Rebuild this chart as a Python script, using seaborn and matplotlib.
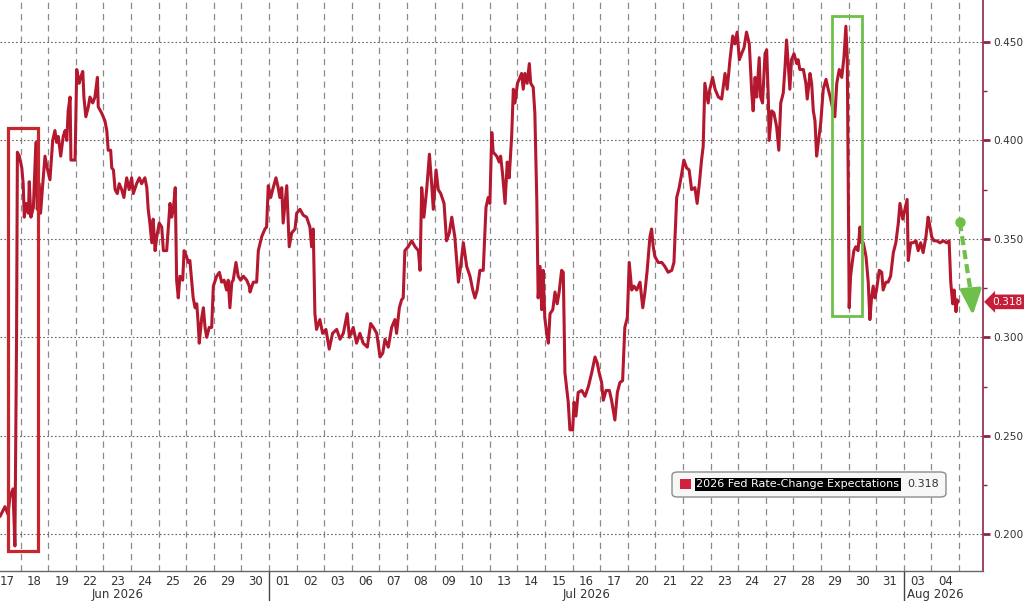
import numpy as np
import pandas as pd
import matplotlib
matplotlib.use("Agg")
import matplotlib.pyplot as plt
import matplotlib.transforms as mtransforms
from matplotlib.patches import Rectangle, FancyBboxPatch
from matplotlib.lines import Line2D
import seaborn as sns

sns.set_theme(style="white")
plt.rcParams["font.family"] = ["DejaVu Sans"]

# ---------------- data ----------------
day_labels = ["17", "18", "19", "22", "23", "24", "25", "26", "29", "30",
              "01", "02", "03", "06", "07", "08", "09", "10", "13", "14",
              "15", "16", "17", "20", "21", "22", "23", "24", "27", "28",
              "29", "30", "31", "03", "04"]
month_labels = ["Jun 2026", "Jul 2026", "Aug 2026"]
month_label_pos = [4.5, 21.5, 34.15]
month_breaks = [10, 33]
y_ticks = [0.200, 0.250, 0.300, 0.350, 0.400, 0.450]
series_name = "2026 Fed Rate-Change Expectations"
last_value = 0.318

# (trading-day position, value)
jun_points = [
    (0.25, 0.209), (0.43, 0.214), (0.54, 0.210), (0.61, 0.219), (0.72, 0.223),
    (0.79, 0.194), (0.85, 0.300), (0.88, 0.394), (0.95, 0.392), (1.04, 0.386),
    (1.09, 0.378), (1.13, 0.361), (1.19, 0.368), (1.28, 0.363), (1.31, 0.379),
    (1.37, 0.361), (1.46, 0.366), (1.55, 0.399), (1.60, 0.365), (1.67, 0.378),
    (1.72, 0.363), (1.80, 0.378), (1.88, 0.392), (1.96, 0.386), (2.06, 0.380),
    (2.16, 0.400), (2.24, 0.405), (2.30, 0.399), (2.36, 0.402), (2.45, 0.392),
    (2.54, 0.402), (2.61, 0.405), (2.67, 0.400), (2.72, 0.415), (2.79, 0.422),
    (2.82, 0.390), (2.97, 0.390), (3.03, 0.436), (3.12, 0.429), (3.17, 0.432),
    (3.25, 0.435), (3.29, 0.422), (3.36, 0.412), (3.45, 0.417), (3.51, 0.422),
    (3.61, 0.419), (3.69, 0.422), (3.78, 0.432), (3.81, 0.417), (3.93, 0.414),
    (4.05, 0.410), (4.12, 0.405), (4.17, 0.395), (4.26, 0.395), (4.30, 0.386),
    (4.36, 0.385), (4.42, 0.375), (4.50, 0.373), (4.57, 0.378), (4.66, 0.375),
    (4.74, 0.371), (4.84, 0.381), (4.93, 0.375), (5.02, 0.381), (5.08, 0.373),
    (5.20, 0.378), (5.30, 0.381), (5.38, 0.378), (5.50, 0.381), (5.57, 0.376),
    (5.62, 0.365), (5.68, 0.358), (5.75, 0.348), (5.80, 0.360), (5.87, 0.344),
    (5.93, 0.351), (6.02, 0.358), (6.11, 0.356), (6.17, 0.344), (6.29, 0.344),
    (6.35, 0.356), (6.41, 0.368), (6.47, 0.361), (6.53, 0.365), (6.60, 0.376),
    (6.65, 0.329), (6.71, 0.320), (6.77, 0.331), (6.87, 0.329), (6.92, 0.344),
    (7.01, 0.341), (7.07, 0.338), (7.13, 0.339), (7.20, 0.328), (7.25, 0.320),
    (7.32, 0.315), (7.38, 0.317), (7.43, 0.307), (7.47, 0.297), (7.56, 0.310),
    (7.62, 0.315), (7.68, 0.305), (7.74, 0.300), (7.83, 0.305), (7.92, 0.305),
    (7.98, 0.326), (8.10, 0.331), (8.20, 0.333), (8.28, 0.328), (8.37, 0.329),
    (8.46, 0.324), (8.52, 0.329), (8.58, 0.315), (8.65, 0.328), (8.70, 0.329),
    (8.80, 0.338), (8.88, 0.331), (8.97, 0.329), (9.07, 0.331), (9.19, 0.329),
    (9.28, 0.326), (9.31, 0.323), (9.43, 0.328), (9.55, 0.328), (9.61, 0.344),
    (9.73, 0.351), (9.85, 0.355), (9.91, 0.356), (9.97, 0.377),
]

jul_points = [
    (10.06, 0.371), (10.15, 0.376), (10.25, 0.381), (10.33, 0.376), (10.39, 0.371),
    (10.46, 0.376), (10.51, 0.358), (10.64, 0.377), (10.73, 0.346), (10.82, 0.353),
    (10.94, 0.355), (11.00, 0.363), (11.12, 0.365), (11.24, 0.362), (11.36, 0.361),
    (11.48, 0.356), (11.54, 0.346), (11.60, 0.355), (11.66, 0.312), (11.72, 0.304),
    (11.84, 0.309), (11.94, 0.302), (12.06, 0.304), (12.18, 0.294), (12.30, 0.302),
    (12.45, 0.304), (12.57, 0.299), (12.69, 0.302), (12.83, 0.312), (12.91, 0.300),
    (13.05, 0.305), (13.17, 0.297), (13.29, 0.302), (13.41, 0.297), (13.56, 0.295),
    (13.68, 0.307), (13.78, 0.305), (13.90, 0.302), (14.02, 0.290), (14.12, 0.292),
    (14.20, 0.299), (14.32, 0.295), (14.44, 0.305), (14.56, 0.309), (14.62, 0.302),
    (14.72, 0.315), (14.80, 0.319), (14.86, 0.320), (14.92, 0.344), (15.04, 0.346),
    (15.17, 0.349), (15.29, 0.346), (15.41, 0.344), (15.47, 0.334), (15.53, 0.376),
    (15.61, 0.361), (15.71, 0.375), (15.81, 0.393), (15.89, 0.378), (15.95, 0.365),
    (16.05, 0.385), (16.13, 0.375), (16.22, 0.373), (16.34, 0.368), (16.43, 0.349),
    (16.53, 0.353), (16.62, 0.361), (16.73, 0.351), (16.86, 0.328), (16.94, 0.336),
    (17.04, 0.348), (17.16, 0.336), (17.28, 0.331), (17.38, 0.324), (17.46, 0.320),
    (17.54, 0.324), (17.64, 0.334), (17.76, 0.334), (17.86, 0.366), (17.94, 0.371),
    (18.00, 0.368), (18.07, 0.404), (18.12, 0.394), (18.25, 0.392), (18.34, 0.389),
    (18.39, 0.392), (18.46, 0.383), (18.55, 0.368), (18.63, 0.389), (18.70, 0.381),
    (18.79, 0.402), (18.85, 0.426), (18.91, 0.419), (19.00, 0.429), (19.09, 0.432),
    (19.15, 0.434), (19.21, 0.426), (19.27, 0.434), (19.35, 0.429), (19.43, 0.439),
    (19.48, 0.429), (19.57, 0.427), (19.63, 0.414), (19.70, 0.370), (19.75, 0.320),
    (19.82, 0.336), (19.88, 0.314), (19.93, 0.334), (19.99, 0.310), (20.06, 0.302),
    (20.12, 0.297), (20.18, 0.312), (20.28, 0.314), (20.36, 0.323), (20.44, 0.317),
    (20.51, 0.323), (20.60, 0.334), (20.66, 0.333), (20.72, 0.282), (20.80, 0.272),
    (20.84, 0.267), (20.90, 0.253), (21.00, 0.253), (21.05, 0.267), (21.12, 0.260),
    (21.20, 0.272), (21.33, 0.273), (21.45, 0.270), (21.57, 0.275), (21.69, 0.282),
    (21.81, 0.290), (21.89, 0.287), (21.96, 0.282), (22.05, 0.277), (22.11, 0.268),
    (22.21, 0.273), (22.33, 0.273), (22.41, 0.268), (22.53, 0.258), (22.62, 0.272),
    (22.71, 0.277), (22.81, 0.278), (22.89, 0.305), (22.98, 0.310), (23.05, 0.338),
    (23.14, 0.324), (23.22, 0.326), (23.32, 0.324), (23.44, 0.328), (23.54, 0.315),
    (23.62, 0.323), (23.70, 0.334), (23.80, 0.351), (23.86, 0.355), (23.92, 0.346),
    (23.98, 0.341), (24.10, 0.338), (24.23, 0.338), (24.34, 0.336), (24.46, 0.333),
    (24.59, 0.334), (24.67, 0.338), (24.77, 0.371), (24.86, 0.376), (24.95, 0.383),
    (25.03, 0.390), (25.13, 0.386), (25.22, 0.385), (25.31, 0.375), (25.43, 0.376),
    (25.51, 0.368), (25.59, 0.378), (25.67, 0.390), (25.73, 0.397), (25.79, 0.429),
    (25.91, 0.419), (25.97, 0.426), (26.07, 0.432), (26.16, 0.426), (26.28, 0.422),
    (26.40, 0.421), (26.52, 0.434), (26.60, 0.426), (26.70, 0.441), (26.80, 0.453),
    (26.88, 0.449), (26.96, 0.455), (27.04, 0.441), (27.12, 0.444), (27.21, 0.447),
    (27.30, 0.455), (27.40, 0.449), (27.49, 0.424), (27.54, 0.415), (27.61, 0.432),
    (27.67, 0.422), (27.76, 0.442), (27.81, 0.422), (27.88, 0.419), (27.97, 0.444),
    (28.03, 0.446), (28.09, 0.421), (28.12, 0.400), (28.21, 0.415), (28.29, 0.414),
    (28.39, 0.407), (28.47, 0.395), (28.54, 0.419), (28.63, 0.424), (28.69, 0.436),
    (28.75, 0.451), (28.81, 0.439), (28.87, 0.426), (28.93, 0.441), (29.02, 0.444),
    (29.12, 0.439), (29.17, 0.441), (29.23, 0.436), (29.36, 0.436), (29.45, 0.429),
    (29.50, 0.421), (29.60, 0.434), (29.66, 0.429), (29.72, 0.415), (29.78, 0.410),
    (29.84, 0.392), (29.90, 0.399), (29.99, 0.409), (30.08, 0.426), (30.18, 0.431),
    (30.26, 0.426), (30.35, 0.421), (30.44, 0.415), (30.50, 0.412), (30.57, 0.429),
    (30.66, 0.436), (30.75, 0.432), (30.83, 0.442), (30.90, 0.458), (30.95, 0.442),
    (30.99, 0.365), (31.02, 0.315), (31.07, 0.331), (31.14, 0.339), (31.19, 0.344),
    (31.26, 0.346), (31.34, 0.344), (31.41, 0.356), (31.47, 0.348), (31.53, 0.348),
    (31.63, 0.341), (31.71, 0.328), (31.77, 0.309), (31.83, 0.320), (31.89, 0.326),
    (31.95, 0.320), (32.01, 0.324), (32.11, 0.334), (32.20, 0.333), (32.25, 0.324),
    (32.35, 0.328), (32.43, 0.328), (32.52, 0.331), (32.62, 0.343), (32.71, 0.348),
    (32.80, 0.358), (32.86, 0.368), (32.96, 0.360),
]

aug_points = [
    (33.04, 0.365), (33.12, 0.370), (33.16, 0.339), (33.25, 0.348), (33.34, 0.348),
    (33.44, 0.349), (33.52, 0.344), (33.61, 0.348), (33.70, 0.343), (33.80, 0.351),
    (33.88, 0.361), (33.95, 0.356), (34.01, 0.351), (34.09, 0.349), (34.19, 0.349),
    (34.31, 0.348), (34.43, 0.349), (34.55, 0.348), (34.64, 0.349), (34.70, 0.328),
    (34.77, 0.317), (34.82, 0.324), (34.89, 0.313), (34.93, 0.319), (34.97, 0.318),
]

df = pd.DataFrame(jun_points + jul_points + aug_points, columns=["t", "value"])

# ---------------- style ----------------
LINE = "#b3182f"
SPINE = "#8e2447"
GREEN = "#6ec04a"
BOXRED = "#c4282d"
TXT = "#333333"

fig = plt.figure(figsize=(10.24, 6.01), dpi=100)
fig.patch.set_facecolor("white")
ax = fig.add_axes([0.0, 0.0499, 0.96, 0.9501])
ax.set_facecolor("white")

sns.lineplot(data=df, x="t", y="value", ax=ax, color=LINE, linewidth=2.2,
             sort=False, estimator=None, legend=False, zorder=5)

ax.set_xlim(0.25, 35.87)
ax.set_ylim(0.1813, 0.4713)
ax.set_xlabel("")
ax.set_ylabel("")

# x axis: labels centered on days, dashed gridlines at day boundaries
ax.set_xticks(np.arange(len(day_labels)) + 0.5)
ax.set_xticklabels(day_labels)
ax.set_xticks(np.arange(1, len(day_labels) + 1), minor=True)
ax.xaxis.grid(False, which="major")
ax.xaxis.grid(True, which="minor", linestyle=(0, (5, 4)), color="#8a8a8a", linewidth=0.9)
ax.tick_params(axis="x", which="both", length=0, pad=3, labelsize=8.5, labelcolor=TXT)

# y axis on the right
ax.yaxis.tick_right()
ax.set_yticks(y_ticks)
ax.set_yticklabels([f"{y:.3f}" for y in y_ticks])
ax.set_yticks(np.array(y_ticks[:-1]) + 0.025, minor=True)
ax.yaxis.grid(True, which="major", linestyle=(0, (1.5, 2.0)), color="#666666", linewidth=0.8)
ax.tick_params(axis="y", which="major", length=5, width=2, color=SPINE, pad=2,
               labelsize=7.6, labelcolor=TXT, right=True, left=False)
ax.tick_params(axis="y", which="minor", length=3, width=1, color=SPINE, right=True, left=False)
ax.set_axisbelow(True)

for s in ["left", "top"]:
    ax.spines[s].set_visible(False)
ax.spines["right"].set_color(SPINE)
ax.spines["right"].set_linewidth(1.2)
ax.spines["bottom"].set_color("#666666")
ax.spines["bottom"].set_linewidth(1.0)

# month separators and month labels
bt = mtransforms.blended_transform_factory(ax.transData, ax.transAxes)
for b in month_breaks:
    ax.add_line(Line2D([b, b], [0, -0.06], transform=bt, color="#444444",
                       linewidth=1.0, clip_on=False))
for lab, pos in zip(month_labels, month_label_pos):
    ax.text(pos, -0.042, lab, transform=bt, ha="center", va="center",
            fontsize=8.5, color=TXT, clip_on=False)

# highlight boxes
ax.add_patch(Rectangle((0.54, 0.1914), 1.09, 0.2149, fill=False,
                       edgecolor=BOXRED, linewidth=2.3, zorder=6))
ax.add_patch(Rectangle((30.39, 0.3108), 1.09, 0.1524, fill=False,
                       edgecolor=GREEN, linewidth=2.0, zorder=6))

# green dashed arrow (dot, dashed shaft, solid head)
ax.plot([35.03, 35.44], [0.3585, 0.3215], linestyle=(0, (2.2, 1.2)), lw=3.0,
        color=GREEN, solid_capstyle="butt", dash_capstyle="butt", zorder=7,
        clip_on=False)
ax.plot([35.03], [0.3585], marker="o", markersize=6.5, color=GREEN, zorder=7)
ax.annotate("", xy=(35.50, 0.3113), xytext=(35.43, 0.3235),
            arrowprops=dict(arrowstyle="-|>,head_length=1.3,head_width=0.55",
                            color=GREEN, lw=2.5, shrinkA=0, shrinkB=0),
            annotation_clip=False, zorder=7)

# last value tag on right axis
vt = mtransforms.blended_transform_factory(ax.transAxes, ax.transData)
ax.text(1.0092, last_value, f"{last_value:.3f}", transform=vt, ha="left", va="center",
        fontsize=7.6, color="white", clip_on=False, zorder=8,
        bbox=dict(boxstyle="larrow,pad=0.22", fc="#c41e3a", ec="none"))

# legend box
ax.add_patch(FancyBboxPatch((0.6836, 0.1296), 0.2787, 0.0438,
                            boxstyle="round,pad=0,rounding_size=0.006",
                            transform=ax.transAxes, facecolor="#f7f7f7",
                            edgecolor="#8c8c8c", linewidth=1.0, zorder=8))
ax.add_patch(Rectangle((0.6918, 0.1436), 0.0112, 0.0175, transform=ax.transAxes,
                       facecolor="#d2213a", edgecolor="none", zorder=9))
ax.text(0.7085, 0.1517, series_name, transform=ax.transAxes, ha="left", va="center",
        fontsize=8.0, color="white", zorder=9,
        bbox=dict(boxstyle="square,pad=0.12", fc="black", ec="none"))
ax.text(0.9225, 0.1517, f"{last_value:.3f}", transform=ax.transAxes, ha="left",
        va="center", fontsize=8, color=TXT, zorder=9)

fig.savefig("out.png", dpi=100)
